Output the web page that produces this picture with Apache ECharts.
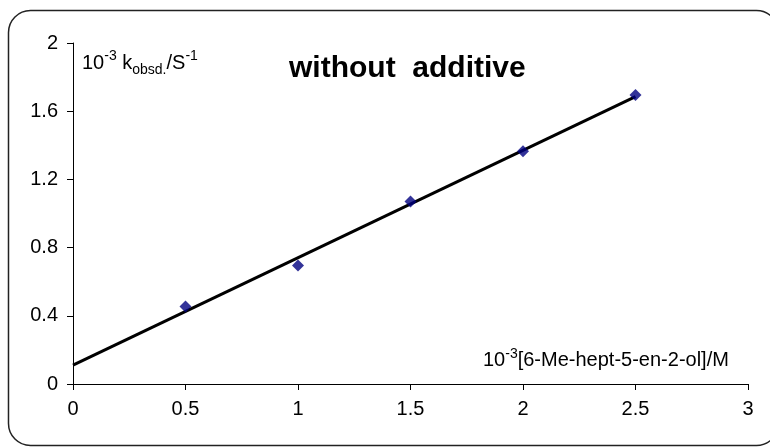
<!DOCTYPE html>
<html>
<head>
<meta charset="utf-8">
<script src="https://cdn.jsdelivr.net/npm/echarts@6/dist/echarts.min.js"></script>
<style>
  html, body { margin: 0; padding: 0; background: #fff; }
  #chart { width: 770px; height: 448px; }
</style>
</head>
<body>
<div id="chart"></div>
<script>
// concentration (10^-3 M) and observed rate constant (10^-3 s^-1)
var conc = [0.5, 1, 1.5, 2, 2.5]
var kobs = [0.455, 0.695, 1.07, 1.365, 1.695]
// fitted trend line (ends)
var fitX = [0, 2.5]
var fitY = [0.111, 1.686]

var xTicks = { min: 0, max: 3, interval: 0.5 }
var yTicks = { min: 0, max: 2, interval: 0.4 }

var font = 'Liberation Sans, Arial, sans-serif'
var chart = echarts.init(document.getElementById('chart'))

var axisCommon = {
  axisLine: { show: true, onZero: false, lineStyle: { color: '#000', width: 1 } },
  axisTick: { show: true, inside: false, length: 6, lineStyle: { color: '#000' } },
  splitLine: { show: false },
  axisLabel: { color: '#000', fontSize: 20, fontFamily: font }
}

var option = {
  animation: false,
  backgroundColor: '#fff',
  title: {
    text: 'without  additive',
    left: 289,
    top: 54,
    padding: 0,
    textStyle: {
      fontSize: 30,
      fontWeight: 'bold',
      color: '#000',
      fontFamily: font
    }
  },
  grid: { left: 73, right: 22, top: 43, bottom: 64 },
  xAxis: Object.assign({}, axisCommon, {
    type: 'value',
    min: xTicks.min,
    max: xTicks.max,
    interval: xTicks.interval,
    axisLabel: Object.assign({}, axisCommon.axisLabel, { margin: 15 })
  }),
  yAxis: Object.assign({}, axisCommon, {
    type: 'value',
    min: yTicks.min,
    max: yTicks.max,
    interval: yTicks.interval,
    axisLabel: Object.assign({}, axisCommon.axisLabel, { margin: 15 })
  }),
  series: [
    {
      name: 'fit',
      type: 'line',
      data: fitX.map(function (x, i) { return [x, fitY[i]] }),
      showSymbol: false,
      symbol: 'none',
      lineStyle: { color: '#000', width: 3 },
      z: 2
    },
    {
      name: 'data',
      type: 'scatter',
      data: conc.map(function (x, i) { return [x, kobs[i]] }),
      symbol: 'diamond',
      symbolSize: [12, 12],
      itemStyle: { color: '#000080' },
      z: 3
    }
  ],
  graphic: [
    {
      type: 'rect',
      shape: { x: 8.5, y: 10.5, width: 770, height: 435, r: 22 },
      style: { fill: 'none', stroke: '#222', lineWidth: 1.5 },
      silent: true
    },
    {
      type: 'text',
      left: 82,
      top: 49,
      style: {
        text: '10{sup|-3} k{sub|obsd.}/S{sup|-1}',
        fontSize: 20,
        fill: '#000',
        fontFamily: font,
        lineHeight: 28,
        rich: {
          sup: { fontSize: 14, lineHeight: 14, verticalAlign: 'top', fill: '#000', fontFamily: font },
          sub: { fontSize: 14, lineHeight: 12, verticalAlign: 'bottom', fill: '#000', fontFamily: font }
        }
      }
    },
    {
      type: 'text',
      left: 483,
      top: 347,
      style: {
        text: '10{sup|-3}[6-Me-hept-5-en-2-ol]/M',
        fontSize: 20,
        fill: '#000',
        fontFamily: font,
        lineHeight: 26,
        rich: {
          sup: { fontSize: 14, lineHeight: 14, verticalAlign: 'top', fill: '#000', fontFamily: font }
        }
      }
    }
  ]
}

option && chart.setOption(option)
</script>
</body>
</html>
